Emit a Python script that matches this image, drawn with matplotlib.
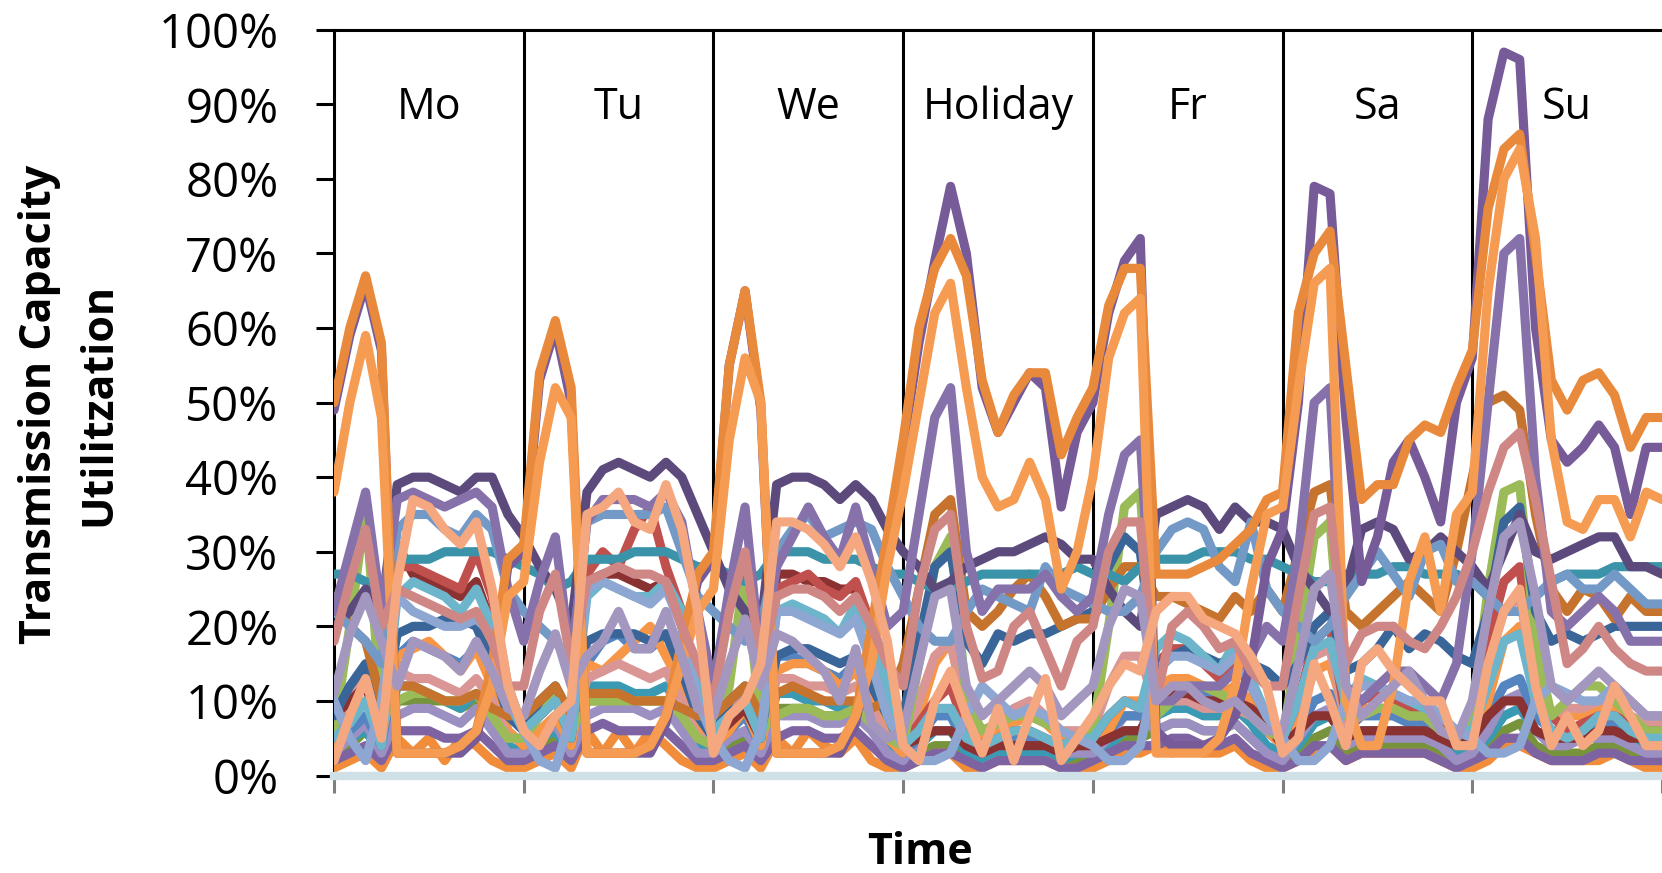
import numpy as np
import matplotlib
matplotlib.use("Agg")
import matplotlib.pyplot as plt
from matplotlib.ticker import PercentFormatter

plt.rcParams['font.family'] = ['Open Sans', 'DejaVu Sans']

days = ['Mo', 'Tu', 'We', 'Holiday', 'Fr', 'Sa', 'Su']
y_ticks = [0, 10, 20, 30, 40, 50, 60, 70, 80, 90, 100]
step_hours = 2  # sampling interval of the series below (values in %)

# ---- series (12 values per day, Mo..Su, + final point) ----
orange_main = [50, 60, 67, 58, 3, 3, 3, 3, 4, 6, 15, 29,
               31, 54, 61, 52, 3, 3, 3, 3, 4, 8, 18, 27,
               30, 55, 65, 50, 3, 3, 3, 3, 4, 8, 20, 32,
               45, 60, 68, 72, 67, 53, 46, 51, 54, 54, 43, 48,
               52, 63, 68, 68, 27, 27, 27, 28, 29, 31, 33, 37,
               38, 62, 70, 73, 55, 37, 39, 39, 45, 47, 46, 52,
               57, 76, 84, 86, 70, 53, 49, 53, 54, 51, 44, 48, 48]
purple_main = [49, 59, 66, 57, 3, 3, 3, 3, 3, 5, 14, 28,
               30, 53, 60, 50, 3, 3, 3, 3, 3, 7, 17, 26,
               29, 55, 65, 49, 3, 3, 3, 3, 3, 7, 19, 31,
               44, 58, 69, 79, 70, 52, 46, 50, 54, 52, 36, 46,
               50, 62, 69, 72, 6, 4, 4, 4, 5, 8, 15, 28,
               33, 50, 79, 78, 48, 26, 32, 42, 45, 40, 34, 50,
               56, 88, 97, 96, 60, 45, 42, 44, 47, 44, 35, 44, 44]
orange_light = [38, 50, 59, 48, 3, 3, 3, 3, 4, 6, 12, 24,
                26, 42, 52, 48, 3, 3, 3, 3, 4, 8, 15, 22,
                25, 45, 56, 50, 3, 3, 3, 3, 4, 8, 15, 28,
                38, 50, 62, 66, 52, 40, 36, 37, 42, 37, 25, 30,
                40, 56, 62, 64, 3, 3, 3, 3, 5, 12, 25, 35,
                36, 52, 66, 68, 10, 4, 4, 12, 26, 32, 22, 35,
                38, 65, 80, 84, 72, 45, 34, 33, 37, 37, 32, 38, 37]
purple_second = [22, 30, 38, 22, 37, 38, 37, 36, 37, 38, 36, 25,
                 18, 26, 32, 15, 34, 37, 37, 37, 36, 38, 34, 22,
                 12, 25, 36, 15, 28, 32, 36, 32, 29, 36, 28, 20,
                 22, 35, 48, 52, 30, 22, 25, 25, 25, 27, 24, 22,
                 24, 35, 43, 45, 10, 10, 12, 12, 12, 14, 16, 20,
                 18, 30, 50, 52, 12, 10, 12, 14, 14, 12, 10, 15,
                 30, 50, 70, 72, 40, 22, 20, 22, 24, 22, 18, 18, 18]
purple_dark = [20, 22, 25, 22, 39, 40, 40, 39, 38, 40, 40, 35,
               32, 28, 25, 20, 38, 41, 42, 41, 40, 42, 40, 35,
               30, 25, 22, 20, 39, 40, 40, 39, 37, 39, 37, 33,
               30, 28, 25, 26, 28, 29, 30, 30, 31, 32, 31, 29,
               29, 25, 22, 20, 35, 36, 37, 36, 33, 36, 34, 34,
               33, 28, 25, 22, 25, 33, 34, 33, 29, 30, 32, 30,
               28, 25, 30, 35, 30, 29, 30, 31, 32, 32, 28, 28, 27]
teal = [27, 27, 26, 25, 29, 29, 29, 30, 30, 30, 30, 29,
        28, 27, 25, 26, 29, 29, 29, 30, 30, 30, 29, 28,
        28, 27, 26, 27, 30, 30, 30, 29, 29, 29, 28, 27,
        27, 26, 25, 25, 26, 27, 27, 27, 27, 27, 27, 28,
        27, 27, 26, 28, 29, 29, 29, 30, 30, 30, 29, 29,
        28, 27, 26, 26, 27, 27, 27, 28, 28, 27, 27, 27,
        26, 24, 22, 22, 24, 26, 27, 27, 27, 28, 28, 28, 28]
light_blue = [22, 20, 18, 15, 33, 35, 35, 33, 32, 35, 33, 25,
              22, 20, 18, 15, 34, 35, 35, 35, 35, 36, 30, 24,
              22, 20, 18, 20, 30, 33, 35, 32, 33, 34, 33, 28,
              24, 20, 18, 18, 22, 25, 24, 23, 22, 28, 25, 24,
              23, 22, 22, 24, 30, 33, 34, 33, 28, 26, 34, 25,
              22, 20, 18, 20, 24, 27, 30, 27, 24, 30, 31, 26,
              26, 24, 22, 22, 24, 26, 27, 25, 25, 27, 25, 23, 23]
salmon = [2, 8, 13, 5, 26, 37, 36, 33, 31, 34, 25, 12,
          6, 4, 8, 10, 35, 36, 38, 34, 33, 39, 33, 22,
          3, 8, 10, 15, 34, 34, 33, 31, 28, 32, 26, 18,
          4, 2, 10, 14, 8, 3, 9, 2, 8, 13, 2, 5,
          8, 12, 15, 14, 22, 24, 24, 21, 20, 19, 16, 12,
          3, 5, 15, 10, 4, 15, 17, 14, 12, 10, 10, 4,
          4, 15, 22, 25, 12, 4, 8, 4, 6, 12, 8, 4, 4]
pink = [18, 26, 33, 20, 25, 24, 23, 22, 21, 22, 18, 12,
        12, 22, 27, 15, 26, 27, 28, 27, 27, 26, 20, 15,
        10, 22, 30, 15, 24, 25, 25, 24, 22, 24, 20, 15,
        12, 25, 33, 35, 20, 13, 14, 20, 22, 17, 12, 18,
        20, 30, 34, 34, 10, 20, 22, 20, 17, 18, 14, 12,
        12, 24, 35, 36, 15, 19, 20, 20, 18, 17, 20, 24,
        30, 38, 44, 46, 37, 26, 15, 17, 20, 17, 15, 14, 14]
lavender = [11, 19, 24, 18, 12, 18, 17, 16, 14, 18, 14, 9,
            8, 14, 19, 12, 16, 18, 22, 17, 17, 22, 16, 9,
            8, 15, 21, 12, 19, 18, 16, 14, 10, 17, 7, 5,
            6, 15, 24, 25, 12, 8, 10, 12, 14, 12, 8, 10,
            12, 20, 25, 24, 10, 12, 12, 10, 9, 10, 8, 6,
            6, 15, 25, 27, 12, 8, 10, 12, 14, 10, 6, 5,
            10, 22, 32, 34, 24, 12, 10, 12, 14, 12, 10, 8, 8]
cyan = [5, 7, 10, 4, 24, 26, 25, 24, 22, 25, 20, 10,
        6, 8, 10, 5, 24, 26, 25, 24, 24, 26, 22, 12,
        6, 8, 10, 5, 22, 23, 22, 21, 19, 23, 19, 12,
        4, 6, 9, 9, 5, 4, 5, 6, 6, 5, 4, 5,
        5, 8, 10, 9, 17, 19, 18, 16, 14, 18, 13, 8,
        5, 10, 17, 18, 10, 13, 12, 11, 10, 9, 8, 6,
        6, 12, 18, 19, 10, 6, 5, 6, 8, 8, 6, 5, 5]
red = [5, 8, 10, 6, 28, 28, 27, 26, 25, 30, 24, 12,
       6, 8, 10, 6, 27, 30, 28, 33, 36, 28, 22, 12,
       6, 8, 10, 5, 25, 26, 27, 25, 24, 26, 20, 10,
       4, 7, 10, 12, 6, 4, 5, 6, 6, 5, 4, 5,
       5, 8, 10, 9, 15, 17, 17, 15, 13, 15, 12, 8,
       5, 10, 18, 20, 8, 10, 11, 10, 9, 9, 7, 5,
       8, 18, 26, 28, 12, 8, 6, 7, 8, 8, 7, 6, 6]
dark_red = [8, 10, 12, 6, 31, 27, 26, 25, 24, 26, 20, 10,
            6, 8, 10, 5, 26, 27, 27, 26, 25, 26, 20, 10,
            5, 7, 9, 5, 27, 27, 26, 26, 25, 25, 20, 10,
            4, 5, 6, 6, 4, 3, 4, 4, 4, 4, 3, 4,
            4, 5, 6, 6, 10, 11, 11, 10, 10, 10, 9, 7,
            4, 6, 8, 8, 5, 6, 6, 6, 6, 6, 5, 4,
            5, 8, 10, 10, 6, 5, 5, 5, 6, 6, 5, 5, 5]
green = [6, 20, 36, 8, 10, 11, 11, 10, 10, 11, 8, 5,
         5, 8, 12, 6, 10, 10, 10, 10, 10, 10, 8, 5,
         4, 12, 28, 6, 8, 9, 9, 8, 8, 9, 7, 5,
         4, 15, 28, 32, 10, 6, 7, 8, 8, 7, 6, 5,
         6, 20, 36, 38, 8, 10, 12, 12, 11, 10, 8, 6,
         5, 18, 32, 34, 8, 8, 9, 9, 8, 8, 6, 5,
         8, 25, 38, 39, 18, 8, 10, 12, 12, 10, 8, 6, 6]
dark_blue = [8, 12, 15, 8, 19, 20, 20, 21, 21, 20, 15, 8,
             6, 10, 12, 8, 18, 19, 19, 19, 18, 19, 14, 8,
             5, 10, 12, 6, 16, 17, 17, 16, 15, 16, 12, 8,
             8, 18, 28, 30, 18, 15, 19, 18, 19, 19, 20, 21,
             22, 28, 32, 30, 14, 16, 17, 16, 15, 16, 15, 14,
             12, 15, 20, 22, 14, 15, 17, 20, 17, 19, 18, 16,
             15, 22, 34, 36, 22, 18, 19, 18, 19, 20, 20, 20, 20]
brown = [24, 20, 18, 10, 12, 12, 11, 10, 10, 11, 9, 8,
         8, 10, 12, 8, 11, 11, 11, 10, 10, 10, 9, 8,
         8, 10, 12, 8, 11, 12, 11, 10, 10, 10, 9, 10,
         15, 25, 35, 37, 22, 20, 22, 25, 27, 24, 20, 21,
         21, 25, 28, 28, 24, 24, 23, 22, 21, 24, 22, 25,
         22, 30, 38, 39, 22, 20, 22, 24, 26, 24, 22, 30,
         40, 50, 51, 49, 35, 25, 22, 25, 24, 21, 24, 22, 22]
blue = [4, 6, 8, 4, 16, 18, 17, 16, 15, 17, 13, 6,
        4, 6, 8, 4, 15, 18, 19, 17, 17, 19, 14, 6,
        4, 6, 8, 4, 16, 16, 15, 14, 13, 15, 11, 6,
        3, 5, 8, 8, 4, 3, 4, 5, 5, 4, 3, 4,
        4, 6, 8, 8, 10, 12, 12, 11, 10, 11, 9, 6,
        4, 6, 10, 11, 6, 8, 8, 8, 7, 7, 6, 4,
        5, 8, 12, 13, 8, 6, 6, 6, 7, 7, 6, 5, 5]
teal_low = [3, 5, 6, 3, 12, 12, 11, 10, 9, 11, 9, 4,
            3, 5, 6, 3, 12, 12, 12, 11, 11, 12, 9, 4,
            3, 5, 6, 3, 11, 11, 10, 10, 9, 10, 8, 4,
            2, 4, 6, 6, 3, 2, 3, 3, 3, 3, 2, 3,
            3, 4, 6, 6, 8, 9, 9, 8, 8, 9, 7, 4,
            3, 4, 7, 8, 5, 6, 6, 6, 6, 6, 5, 3,
            3, 5, 8, 9, 6, 5, 5, 5, 5, 6, 5, 4, 4]
dark_green = [2, 4, 6, 3, 10, 10, 10, 10, 9, 10, 8, 3,
              3, 4, 5, 3, 10, 10, 10, 10, 10, 10, 8, 3,
              2, 4, 5, 3, 9, 9, 9, 8, 8, 9, 7, 3,
              2, 3, 4, 4, 3, 2, 3, 3, 3, 3, 2, 2,
              2, 3, 5, 5, 6, 7, 7, 6, 6, 7, 5, 3,
              2, 3, 5, 6, 3, 4, 4, 4, 4, 4, 3, 2,
              2, 4, 6, 7, 4, 3, 3, 3, 4, 4, 3, 2, 2]
orange_low = [1, 2, 3, 1, 5, 3, 5, 2, 5, 4, 2, 1,
              1, 2, 3, 1, 6, 3, 6, 3, 6, 4, 2, 1,
              1, 2, 3, 1, 5, 3, 6, 4, 3, 5, 2, 1,
              1, 2, 3, 3, 1, 1, 2, 2, 2, 2, 1, 1,
              1, 2, 3, 3, 4, 3, 4, 3, 3, 4, 2, 1,
              1, 2, 3, 4, 2, 3, 3, 3, 3, 3, 2, 1,
              1, 2, 4, 4, 3, 2, 2, 2, 2, 3, 2, 1, 1]
purple_low = [2, 3, 4, 2, 6, 6, 6, 5, 5, 6, 4, 2,
              2, 3, 4, 2, 6, 7, 6, 6, 6, 6, 4, 2,
              2, 3, 4, 2, 5, 6, 6, 5, 5, 6, 4, 2,
              1, 2, 3, 3, 2, 1, 2, 2, 2, 2, 1, 1,
              2, 3, 4, 4, 4, 5, 5, 4, 4, 5, 3, 2,
              1, 2, 4, 4, 2, 3, 3, 3, 3, 3, 2, 1,
              2, 3, 5, 5, 3, 2, 2, 2, 3, 3, 2, 2, 2]
steel_blue = [10, 5, 2, 10, 24, 22, 21, 20, 20, 21, 19, 12,
              6, 2, 1, 8, 25, 26, 25, 24, 23, 25, 20, 10,
              5, 2, 1, 6, 22, 22, 21, 20, 19, 21, 15, 8,
              4, 2, 2, 3, 8, 12, 10, 8, 9, 8, 6, 5,
              4, 2, 2, 4, 14, 16, 16, 15, 14, 16, 12, 8,
              5, 2, 2, 4, 10, 12, 12, 11, 10, 10, 8, 6,
              5, 3, 3, 4, 10, 12, 11, 10, 10, 12, 10, 8, 8]
orange_mid = [4, 8, 10, 5, 16, 17, 18, 16, 14, 17, 12, 6,
              4, 6, 8, 4, 15, 14, 16, 18, 20, 16, 12, 6,
              4, 6, 9, 4, 14, 15, 15, 14, 12, 14, 10, 5,
              3, 8, 15, 18, 8, 5, 6, 7, 8, 7, 5, 4,
              4, 6, 10, 10, 12, 13, 13, 12, 11, 12, 10, 6,
              4, 8, 14, 15, 8, 9, 9, 9, 8, 8, 7, 5,
              5, 10, 18, 20, 10, 8, 8, 8, 9, 9, 8, 6, 6]
pink_low = [6, 10, 14, 6, 14, 13, 13, 12, 11, 13, 10, 5,
            5, 8, 11, 5, 13, 14, 15, 14, 13, 14, 10, 5,
            5, 8, 12, 5, 13, 13, 12, 12, 11, 12, 9, 5,
            4, 10, 16, 18, 8, 6, 7, 9, 10, 8, 6, 6,
            6, 12, 16, 16, 9, 10, 10, 9, 9, 9, 8, 6,
            5, 10, 16, 17, 7, 8, 9, 9, 9, 8, 6, 5,
            8, 15, 22, 24, 12, 8, 9, 9, 10, 10, 8, 7, 7]
lavender_low = [3, 5, 7, 3, 8, 9, 9, 8, 7, 9, 6, 3,
                3, 5, 7, 3, 8, 9, 9, 9, 8, 9, 6, 3,
                3, 5, 6, 3, 8, 8, 8, 7, 7, 8, 6, 3,
                2, 5, 8, 9, 4, 3, 4, 4, 5, 4, 3, 3,
                3, 5, 8, 8, 6, 7, 7, 6, 6, 7, 5, 3,
                2, 5, 8, 9, 4, 5, 5, 5, 5, 5, 4, 2,
                3, 6, 10, 11, 6, 4, 4, 5, 5, 5, 4, 3, 3]

# drawing order: bottom -> top
series = [
    (dark_green, '#77933C'), (teal_low, '#3A9AB3'), (orange_low, '#F08C3A'),
    (purple_low, '#7E63A3'), (lavender_low, '#9C8FC2'), (blue, '#5585C0'),
    (orange_mid, '#F79646'), (pink_low, '#D99694'), (dark_red, '#8A3232'),
    (red, '#C0504D'), (green, '#9BBB59'), (dark_blue, '#3A6598'),
    (brown, '#C6732E'), (cyan, '#6CB5CB'), (steel_blue, '#8DA6D2'),
    (teal, '#3A93A8'), (purple_dark, '#5C4A7C'), (light_blue, '#7399C6'),
    (purple_second, '#8671AA'), (purple_main, '#765B98'),
    (orange_main, '#E8893B'), (orange_light, '#F59B52'),
    (pink, '#CF8785'), (lavender, '#A397C0'), (salmon, '#F5A880'),
]

W, H = 1662, 873
fig = plt.figure(figsize=(W / 100, H / 100), dpi=100)
ax = fig.add_axes([334 / W, (H - 775.5) / H, 1328 / W, (775.5 - 29.7) / H])

for vals, col in series:
    hrs = np.arange(len(vals)) * step_hours
    ax.plot(hrs, vals, color=col, lw=6.6, solid_joinstyle='round',
            solid_capstyle='round', zorder=3)

n_days = len(days)
for d in range(1, n_days):
    ax.axvline(d * 24, color='black', lw=2.2, zorder=1)

for i, name in enumerate(days):
    ax.text(i * 24 + 12, 88, name, ha='center', va='baseline', fontsize=31, zorder=6)

ax.set_xlim(0, n_days * 24)
ax.set_ylim(0, 100)
ax.set_yticks(y_ticks)
ax.yaxis.set_major_formatter(PercentFormatter(xmax=100, decimals=0))
ax.set_xticks(np.arange(0, n_days * 24 + 1, 24))
ax.set_xticklabels([])

for s in ['left', 'top']:
    ax.spines[s].set_color('black')
    ax.spines[s].set_linewidth(2.2)
ax.spines['right'].set_visible(False)
ax.spines['bottom'].set_color('#CFE0E7')
ax.spines['bottom'].set_linewidth(6)
ax.spines['bottom'].set_zorder(8)

ax.tick_params(axis='y', direction='out', length=13, width=2.2, color='black',
               pad=27, labelsize=34)
ax.tick_params(axis='x', direction='out', length=12, width=2.2, color='#7F7F7F')

fig.text(69 / W, (H - 404) / H, 'Transmission Capacity\nUtilitzation', rotation=90,
         ha='center', va='center', fontsize=31, fontweight='bold',
         linespacing=1.5, multialignment='center')
fig.text(920 / W, 9 / H, 'Time', ha='center', va='baseline', fontsize=31,
         fontweight='bold')

fig.savefig('out.png', dpi=100)
